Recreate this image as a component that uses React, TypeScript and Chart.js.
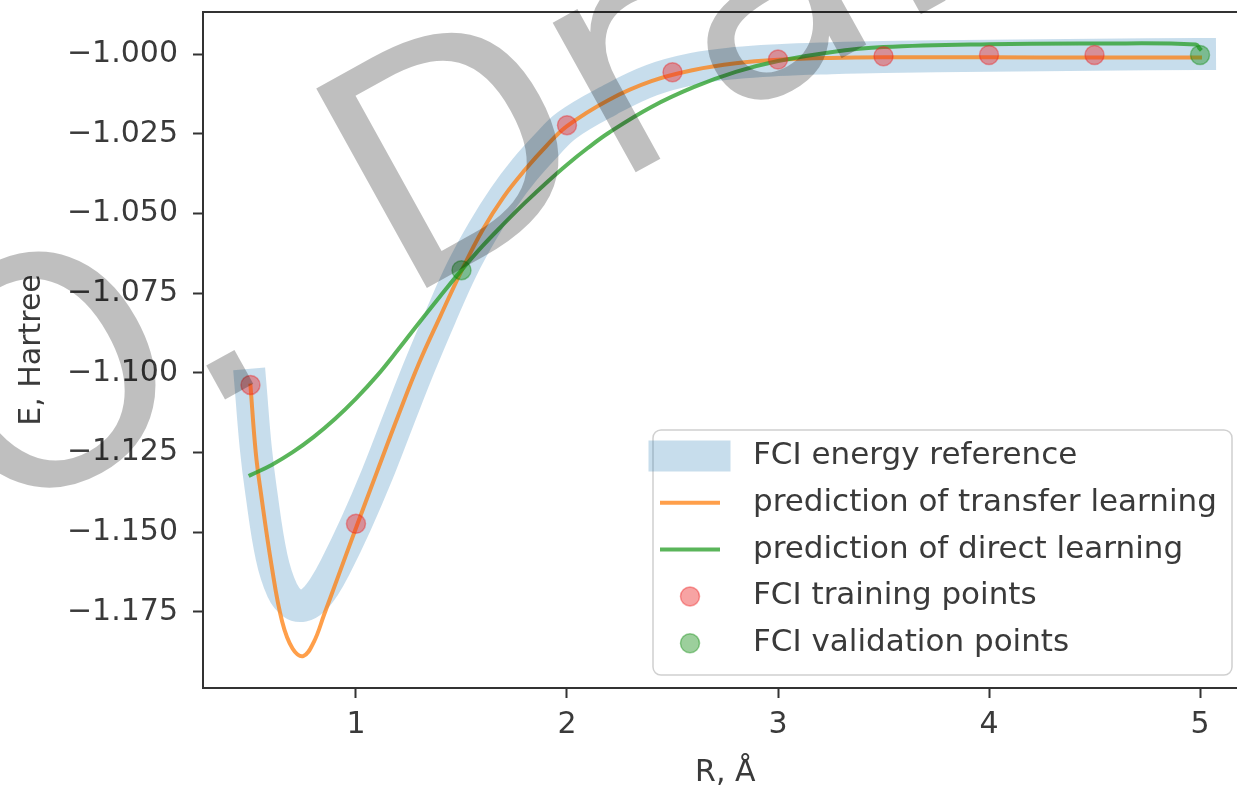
import React, { useEffect, useRef } from 'react';
import { Chart, registerables } from 'chart.js';

Chart.register(...registerables);

// ---- data ----
const curveR = [0.5, 0.525, 0.55, 0.6, 0.65, 0.7, 0.75, 0.8, 0.85, 0.9, 1.0, 1.1, 1.2, 1.3, 1.4, 1.5, 1.6, 1.7, 1.8, 1.9, 2.0, 2.2, 2.4, 2.6, 2.8, 3.0, 3.25, 3.5, 4.0, 4.5, 5.0];
const fciEnergy = [-1.1038, -1.1235, -1.1370, -1.1578, -1.1682, -1.1724, -1.1731, -1.1712, -1.1670, -1.1612, -1.1474, -1.1320, -1.1150, -1.0982, -1.0825, -1.0677, -1.0555, -1.0450, -1.0362, -1.0288, -1.0223, -1.0145, -1.0082, -1.0046, -1.0028, -1.0019, -1.0013, -1.0009, -1.0005, -1.0002, -1.0000];
const transferPred = [-1.1040, -1.1250, -1.1380, -1.1605, -1.1780, -1.1866, -1.1889, -1.1845, -1.1757, -1.1667, -1.1487, -1.1310, -1.1135, -1.0968, -1.0822, -1.0680, -1.0552, -1.0448, -1.0364, -1.0290, -1.0226, -1.0143, -1.0085, -1.0050, -1.0029, -1.0018, -1.0012, -1.0010, -1.0010, -1.0011, -1.0011];
const directR = [0.5, 0.6, 0.7, 0.8, 0.9, 1.0, 1.1, 1.2, 1.3, 1.4, 1.5, 1.6, 1.7, 1.8, 1.9, 2.0, 2.1, 2.2, 2.4, 2.6, 2.8, 3.0, 3.25, 3.5, 4.0, 4.5, 4.98, 5.0];
const directPred = [-1.1321, -1.1289, -1.1249, -1.1201, -1.1145, -1.1081, -1.1009, -1.0927, -1.0842, -1.0759, -1.0678, -1.0602, -1.0533, -1.0467, -1.0405, -1.0347, -1.0294, -1.0246, -1.0166, -1.0104, -1.0056, -1.0022, -0.9994, -0.9978, -0.9969, -0.9967, -0.9970, -0.9984];
const trainR = [0.5, 1.0, 2.0, 2.5, 3.0, 3.5, 4.0, 4.5];
const trainE = [-1.1038, -1.1474, -1.0223, -1.0057, -1.0017, -1.0007, -1.0003, -1.0003];
const validR = [1.5, 5.0];
const validE = [-1.0678, -1.0003];
const xTicks = [1, 2, 3, 4, 5];
const yTicks = [-1.175, -1.15, -1.125, -1.1, -1.075, -1.05, -1.025, -1.0];
const seriesLabels = ['FCI energy reference', 'prediction of transfer learning', 'prediction of direct learning', 'FCI training points', 'FCI validation points'];
const watermarkParts = ['O.', 'Draft'];

// ---- styles ----
const FONT = "'DejaVu Sans', 'Noto Sans', sans-serif";
const TEXT = '#3a3a3a';
const SPINE = '#333333';
const C_BLUE = 'rgba(31,119,180,0.25)';
const C_ORANGE = 'rgba(255,127,14,0.75)';
const C_GREEN = 'rgba(44,160,44,0.78)';
const C_RED_PT = 'rgba(235,35,35,0.42)';
const C_GREEN_PT = 'rgba(20,140,20,0.42)';

const pts = (xs: number[], ys: number[]) => xs.map((x, i) => ({ x, y: ys[i] }));

const decorPlugin = {
  id: 'decor',
  afterDraw(chart: any) {
    const { ctx, chartArea: a } = chart;
    ctx.save();
    // top spine (the right spine lies beyond the visible page, as in the reference)
    ctx.strokeStyle = SPINE;
    ctx.lineWidth = 2;
    ctx.beginPath();
    ctx.moveTo(a.left - 1, a.top);
    ctx.lineTo(chart.width, a.top);
    ctx.stroke();

    // legend
    const bx = 653, by = 430, bw = 579, bh = 245, r = 8;
    ctx.beginPath();
    ctx.moveTo(bx + r, by);
    ctx.lineTo(bx + bw - r, by);
    ctx.arcTo(bx + bw, by, bx + bw, by + r, r);
    ctx.lineTo(bx + bw, by + bh - r);
    ctx.arcTo(bx + bw, by + bh, bx + bw - r, by + bh, r);
    ctx.lineTo(bx + r, by + bh);
    ctx.arcTo(bx, by + bh, bx, by + bh - r, r);
    ctx.lineTo(bx, by + r);
    ctx.arcTo(bx, by, bx + r, by, r);
    ctx.closePath();
    ctx.fillStyle = 'rgba(255,255,255,0.8)';
    ctx.fill();
    ctx.strokeStyle = '#d0d0d0';
    ctx.lineWidth = 1.5;
    ctx.stroke();

    const rowY = (i: number) => by + 26 + i * 46.8;
    const hx = 690;
    ctx.lineCap = 'square';
    ctx.strokeStyle = C_BLUE;
    ctx.lineWidth = 31;
    ctx.beginPath();
    ctx.moveTo(hx - 26, rowY(0));
    ctx.lineTo(hx + 25, rowY(0));
    ctx.stroke();
    [C_ORANGE, C_GREEN].forEach((c, k) => {
      ctx.strokeStyle = c;
      ctx.lineWidth = 4;
      ctx.beginPath();
      ctx.moveTo(hx - 28, rowY(k + 1));
      ctx.lineTo(hx + 28, rowY(k + 1));
      ctx.stroke();
    });
    [C_RED_PT, C_GREEN_PT].forEach((c, k) => {
      ctx.beginPath();
      ctx.arc(hx, rowY(k + 3), 9.5, 0, Math.PI * 2);
      ctx.fillStyle = c;
      ctx.fill();
      ctx.strokeStyle = c;
      ctx.lineWidth = 1.5;
      ctx.stroke();
    });
    ctx.fillStyle = TEXT;
    ctx.font = `31px ${FONT}`;
    ctx.textBaseline = 'middle';
    ctx.textAlign = 'left';
    seriesLabels.forEach((t, i) => ctx.fillText(t, 753, rowY(i)));

    // watermark
    ctx.fillStyle = 'rgba(0,0,0,0.25)';
    ctx.font = `313px ${FONT}`;
    ctx.textBaseline = 'alphabetic';
    const ang = (-29 * Math.PI) / 180;
    const origins = [[-8.6, 529], [400, 303]];
    watermarkParts.forEach((t, i) => {
      ctx.save();
      ctx.translate(origins[i][0], origins[i][1]);
      ctx.rotate(ang);
      ctx.fillText(t, 0, 0);
      ctx.restore();
    });
    ctx.restore();
  },
};

export default function App() {
  const ref = useRef<HTMLCanvasElement | null>(null);

  useEffect(() => {
    document.body.style.margin = '0';
    const canvas = ref.current;
    if (!canvas) return;
    const font = { family: FONT, size: 30 };
    const lineBase = { showLine: true, pointRadius: 0, tension: 0.4, fill: false };
    const chart = new Chart(canvas, {
      type: 'scatter',
      data: {
        datasets: [
          {
            ...lineBase,
            label: seriesLabels[0],
            data: pts(curveR, fciEnergy),
            borderColor: C_BLUE,
            borderWidth: 32,
            borderCapStyle: 'square',
            borderJoinStyle: 'round',
            order: 5,
          },
          {
            ...lineBase,
            label: seriesLabels[1],
            data: pts(curveR, transferPred),
            borderColor: C_ORANGE,
            borderWidth: 4,
            borderCapStyle: 'square',
            order: 4,
          },
          {
            ...lineBase,
            label: seriesLabels[2],
            data: pts(directR, directPred),
            borderColor: C_GREEN,
            borderWidth: 4,
            borderCapStyle: 'square',
            order: 3,
          },
          {
            label: seriesLabels[3],
            data: pts(trainR, trainE),
            showLine: false,
            pointRadius: 9.5,
            pointBackgroundColor: C_RED_PT,
            pointBorderColor: C_RED_PT,
            pointBorderWidth: 1.5,
            order: 2,
          },
          {
            label: seriesLabels[4],
            data: pts(validR, validE),
            showLine: false,
            pointRadius: 9.5,
            pointBackgroundColor: C_GREEN_PT,
            pointBorderColor: C_GREEN_PT,
            pointBorderWidth: 1.5,
            order: 1,
          },
        ],
      },
      options: {
        responsive: false,
        maintainAspectRatio: false,
        animation: false,
        devicePixelRatio: 1,
        events: [],
        layout: { padding: { top: 12, right: 12.5, left: 0, bottom: 0 } },
        plugins: { legend: { display: false }, tooltip: { enabled: false } },
        scales: {
          x: {
            type: 'linear',
            min: 0.275,
            max: 5.225,
            afterFit: (s: any) => { s.height = 103; s.paddingLeft = 0; s.paddingRight = 0; },
            afterBuildTicks: (s: any) => { s.ticks = xTicks.map((v) => ({ value: v })); },
            ticks: { font, color: TEXT, padding: 9, callback: (v: any) => String(v) },
            grid: { drawOnChartArea: false, drawTicks: true, tickLength: 10, tickWidth: 2, tickColor: SPINE },
            border: { display: true, color: SPINE, width: 2 },
            title: { display: true, text: 'R, Å', font, color: TEXT, padding: { top: 0, bottom: 0 } },
          },
          y: {
            type: 'linear',
            min: -1.1989,
            max: -0.9868,
            afterFit: (s: any) => { s.width = 203; s.paddingTop = 0; s.paddingBottom = 0; },
            afterBuildTicks: (s: any) => { s.ticks = yTicks.map((v) => ({ value: v })); },
            ticks: {
              font,
              color: TEXT,
              padding: 15,
              callback: (v: any) => (v < 0 ? '\u2212' : '') + Math.abs(Number(v)).toFixed(3),
            },
            grid: { drawOnChartArea: false, drawTicks: true, tickLength: 10, tickWidth: 2, tickColor: SPINE },
            border: { display: true, color: SPINE, width: 2 },
            title: { display: true, text: 'E, Hartree', font, color: TEXT, padding: { top: 14, bottom: 0 } },
          },
        },
      },
      plugins: [decorPlugin],
    } as any);
    return () => chart.destroy();
  }, []);

  return (
    <div style={{ position: 'fixed', left: 0, top: 0, width: 1237, height: 791, overflow: 'hidden', background: '#fff' }}>
      <canvas ref={ref} width={1260} height={791} style={{ display: 'block' }} />
    </div>
  );
}
